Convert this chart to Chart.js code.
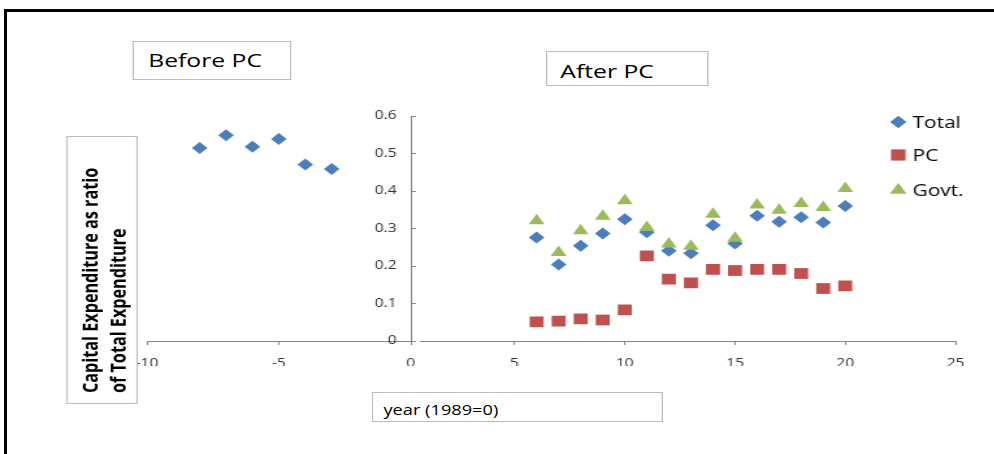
<!DOCTYPE html>
<html>
<head>
<meta charset="utf-8">
<script src="https://cdn.jsdelivr.net/npm/chart.js@4.4.1/dist/chart.umd.min.js"></script>
<style>
  html, body { margin: 0; padding: 0; background: #fff; }
  body { width: 994px; height: 454px; overflow: hidden; position: relative; font-family: "Open Sans", sans-serif; }
  /* the reference is stretched sideways, so the page is built narrow and scaled */
  #page { position: absolute; left: 0; top: 0; width: 765px; height: 454px; transform: scaleX(1.3); transform-origin: 0 0; }
  #afterWrap { position: absolute; left: 0; top: 0; width: 765px; height: 454px; }
  #beforeWrap { position: absolute; left: 100px; top: 100px; width: 223px; height: 280px; background: #fff; }
  .box { position: absolute; box-sizing: border-box; border: 1px solid #bcbcbc; background: #fff; color: #000; white-space: nowrap; }
  #frame { position: absolute; left: 4px; top: 9px; width: 1200px; height: 600px; border-left: 3px solid #000; border-top: 3px solid #000; }
</style>
</head>
<body>
<div id="page">
  <div id="afterWrap"><canvas id="afterChart"></canvas></div>
  <div id="beforeWrap"><canvas id="beforeChart"></canvas></div>

  <div class="box" style="left:102px;top:41px;width:122px;height:39px;font-size:19px;line-height:37px;padding-left:11px;">Before PC</div>
  <div class="box" style="left:420px;top:51px;width:125px;height:35px;font-size:19px;line-height:39px;padding-left:10px;">After PC</div>
  <div class="box" style="left:286px;top:392px;width:224px;height:30px;font-size:14px;line-height:33px;padding-left:8px;">year (1989=0)</div>
  <div class="box" style="left:51px;top:136px;width:55px;height:268px;writing-mode:vertical-rl;transform:rotate(180deg);font-weight:bold;font-size:16.2px;line-height:22px;padding-top:10px;padding-right:6px;">Capital Expenditure as ratio<br>of Total Expenditure</div>
</div>
<div id="frame"></div>

<script>
// Before PC (years relative to 1989)
const beforeYears = [-8, -7, -6, -5, -4, -3];
const beforeTotal = [0.515, 0.549, 0.518, 0.539, 0.471, 0.459];

// After PC
const afterYears = [6, 7, 8, 9, 10, 11, 12, 13, 14, 15, 16, 17, 18, 19, 20];
const afterTotal = [0.276, 0.204, 0.254, 0.287, 0.325, 0.29, 0.241, 0.234, 0.309, 0.26, 0.334, 0.318, 0.33, 0.316, 0.36];
const afterPC    = [0.051, 0.053, 0.059, 0.056, 0.083, 0.227, 0.165, 0.155, 0.191, 0.188, 0.191, 0.191, 0.18, 0.14, 0.147];
const afterGovt  = [0.321, 0.236, 0.294, 0.333, 0.374, 0.303, 0.259, 0.253, 0.338, 0.274, 0.363, 0.349, 0.367, 0.356, 0.407];

const seriesNames = ['Total', 'PC', 'Govt.'];

const BLUE = '#4a7ebb';
const RED = '#c0504d';
const GREEN = '#9bbb59';
const AXIS = '#868686';
const tickFont = { family: 'Open Sans', size: 12 };

function points(xs, ys) {
    return xs.map((x, i) => ({ x: x, y: ys[i] }));
}

// x axis: fixed height, and no extra side room for the end labels
function fitX(s) {
    s.height = 25;
    s.paddingLeft = 0;
    s.paddingRight = 0;
}

// legend drawn inside the plot, like the excel one
const legendX = 691;
const legendTextX = 702;
const legendY = [122, 155, 190];

const insideLegend = {
    id: 'insideLegend',
    afterDraw(chart) {
        const ctx = chart.ctx;
        ctx.save();
        chart.data.datasets.forEach((ds, i) => {
            ctx.fillStyle = ds.backgroundColor;
            Chart.helpers.drawPoint(ctx, {
                pointStyle: ds.pointStyle,
                radius: ds.pointRadius,
                borderWidth: 0,
                rotation: 0
            }, legendX, legendY[i]);
            ctx.fill();
            ctx.fillStyle = '#000';
            ctx.font = '16px "Open Sans"';
            ctx.textBaseline = 'middle';
            ctx.fillText(ds.label, legendTextX, legendY[i] + 1);
        });
        ctx.restore();
    }
};

new Chart(document.getElementById('afterChart'), {
    type: 'scatter',
    data: {
        datasets: [
            { label: seriesNames[0], data: points(afterYears, afterTotal), pointStyle: 'rectRot', pointRadius: 6,
              backgroundColor: BLUE, borderWidth: 0, order: 2 },
            { label: seriesNames[1], data: points(afterYears, afterPC), pointStyle: 'rect', pointRadius: 7.6,
              backgroundColor: RED, borderWidth: 0, order: 1 },
            { label: seriesNames[2], data: points(afterYears, afterGovt), pointStyle: 'triangle', pointRadius: 7,
              backgroundColor: GREEN, borderWidth: 0, order: 0 }
        ]
    },
    options: {
        responsive: true,
        maintainAspectRatio: false,
        animation: false,
        layout: { padding: { left: 311, right: 30, top: 116, bottom: 88 } },
        plugins: { legend: { display: false }, tooltip: { enabled: false } },
        scales: {
            x: {
                type: 'linear', min: 0, max: 25,
                afterFit: fitX,
                ticks: { stepSize: 5, font: tickFont, color: '#333', padding: 11, maxRotation: 0 },
                grid: { drawOnChartArea: false, tickLength: 4, color: AXIS },
                border: { color: AXIS }
            },
            y: { display: false, min: 0, max: 0.6 }
        }
    },
    plugins: [insideLegend]
});

new Chart(document.getElementById('beforeChart'), {
    type: 'scatter',
    data: {
        datasets: [
            { label: seriesNames[0], data: points(beforeYears, beforeTotal), pointStyle: 'rectRot', pointRadius: 6,
              backgroundColor: BLUE, borderWidth: 0 }
        ]
    },
    options: {
        responsive: true,
        maintainAspectRatio: false,
        animation: false,
        layout: { padding: { left: 13, right: 0, top: 16, bottom: 14 } },
        plugins: { legend: { display: false }, tooltip: { enabled: false } },
        scales: {
            x: {
                type: 'linear', min: -10, max: 0,
                afterFit: fitX,
                ticks: { stepSize: 5, font: tickFont, color: '#333', padding: 11, maxRotation: 0 },
                grid: { drawOnChartArea: false, tickLength: 4, color: AXIS },
                border: { color: AXIS }
            },
            y: {
                position: 'right', min: 0, max: 0.6,
                afterFit: s => { s.width = 7; },
                ticks: { stepSize: 0.1, mirror: true, padding: -11, font: tickFont, color: '#333' },
                grid: { drawOnChartArea: false, tickLength: 4, color: AXIS },
                border: { color: AXIS }
            }
        }
    }
});
</script>
</body>
</html>
